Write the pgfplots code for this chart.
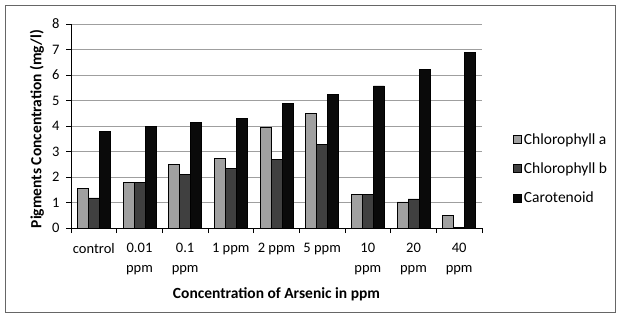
\documentclass[border=0pt]{standalone}
\usepackage{fontspec}
\setmainfont{Carlito}
\usepackage{pgfplots}
\pgfplotsset{compat=1.18}
\definecolor{ca}{HTML}{A0A0A0}
\definecolor{cb}{HTML}{404040}
\definecolor{cc}{HTML}{0A0A0A}
\begin{document}
\begin{tikzpicture}
\useasboundingbox (0,0) rectangle (619pt,317pt);
\draw[gray!80!black, line width=1pt] (5pt,5pt) rectangle (615pt,312pt);
\begin{axis}[
  at={(71pt,89pt)}, anchor=south west,
  scale only axis, width=411pt, height=204pt,
  ybar=0pt, bar width=11pt,
  xmin=-0.5, xmax=8.5, ymin=0, ymax=8,
  ytick={0,...,8},
  xtick={0,...,8},
  xticklabels={control,{0.01\\ppm},{0.1\\ppm},1 ppm,2 ppm,5 ppm,{10\\ppm},{20\\ppm},{40\\ppm}},
  xticklabel style={align=center, font=\fontsize{14.5}{19.5}\selectfont, yshift=-7pt},
  yticklabel style={font=\fontsize{14.5}{16}\selectfont, xshift=-3pt},
  /pgf/number format/assume math mode=true,
  minor xtick={-0.5,0.5,...,8.5},
  major x tick style={draw=none},
  minor x tick style={black, line width=0.9pt},
  major y tick style={black, line width=0.9pt},
  minor tick length=5pt, major tick length=5pt,
  tick align=outside,
  axis lines*=left,
  axis line style={-, black, line width=0.9pt},
  ymajorgrids, grid style={gray!75, line width=0.9pt},
  xlabel={\textbf{Concentration of Arsenic in ppm}},
  ylabel={\textbf{Pigments Concentration (mg/l)}},
  xlabel style={at={(axis description cs:0.5,-0.325)}, anchor=center, font=\fontsize{15.5}{17}\selectfont},
  ylabel style={at={(axis description cs:-0.083,0.485)}, anchor=center, font=\fontsize{15.5}{17}\selectfont},
  legend style={draw=none, at={(1.068,0.29)}, anchor=west, row sep=13pt,
    font=\fontsize{15.5}{17}\selectfont, fill=none},
  legend cell align=left,
  legend image code/.code={\draw[#1, draw=black, line width=0.8pt] (0pt,-4pt) rectangle (8pt,4pt);},
]
\addplot[fill=ca, draw=black, line width=0.8pt] coordinates {(0,1.55) (1,1.8) (2,2.48) (3,2.72) (4,3.95) (5,4.5) (6,1.3) (7,1.02) (8,0.48)};
\addplot[fill=cb, draw=black, line width=0.8pt] coordinates {(0,1.18) (1,1.8) (2,2.1) (3,2.35) (4,2.7) (5,3.28) (6,1.3) (7,1.14) (8,0.02)};
\addplot[fill=cc, draw=black, line width=0.8pt] coordinates {(0,3.78) (1,3.97) (2,4.15) (3,4.28) (4,4.9) (5,5.25) (6,5.57) (7,6.23) (8,6.9)};
\legend{Chlorophyll a, Chlorophyll b, Carotenoid}
\end{axis}
\end{tikzpicture}
\end{document}
